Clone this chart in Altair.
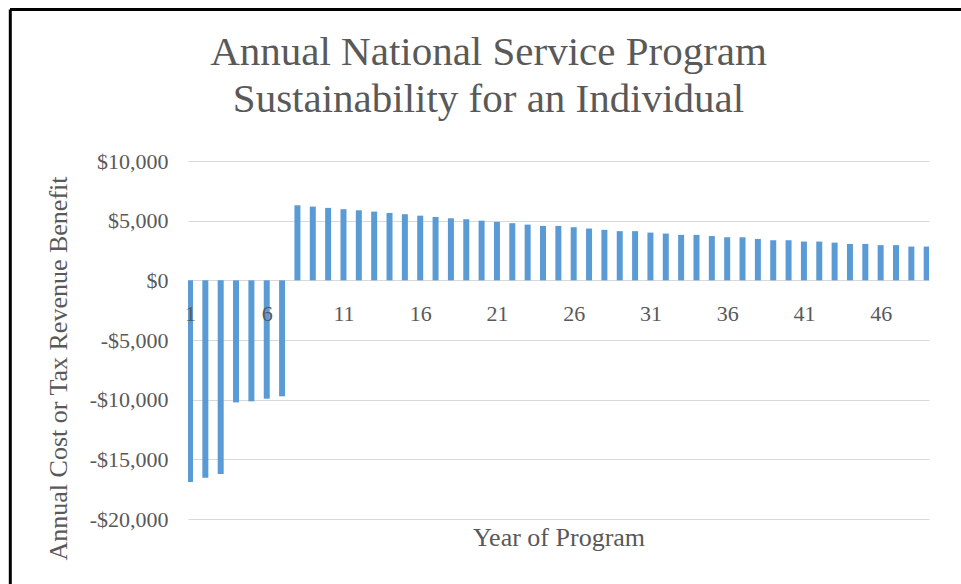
import altair as alt
import pandas as pd

# ---- data ----
years = list(range(1, 50))
values = [
    -16900, -16550, -16220, -10230, -10140, -9920, -9720,
    6290, 6180, 6070, 5960, 5870, 5760, 5650, 5540, 5420, 5310,
    5200, 5120, 5000, 4900, 4790, 4670, 4560, 4560, 4450, 4340,
    4230, 4120, 4120, 4000, 3920, 3810, 3810, 3710, 3610, 3610,
    3470, 3360, 3360, 3250, 3250, 3160, 3050, 3050, 2950, 2950,
    2830, 2830,
]
x_tick_values = [1, 6, 11, 16, 21, 26, 31, 36, 41, 46]
y_tick_values = [-20000, -15000, -10000, -5000, 0, 5000, 10000]
title_lines = ["Annual National Service Program", "Sustainability for an Individual"]
x_title = "Year of Program"
y_title = "Annual Cost or Tax Revenue Benefit"

df = pd.DataFrame({"year": years, "value": values})
frame_df = pd.DataFrame({"k": [0]})

FONT = "Liberation Serif"
GREY = "#595959"

W, H = 741, 358
PAD = {"left": 188, "top": 161, "right": 32, "bottom": 65}

bars = alt.Chart(df).mark_bar(size=6, color="#5B9BD5", clip=True).encode(
    x=alt.X(
        "year:Q",
        scale=alt.Scale(domain=[0.87, 49.15], nice=False, zero=False, padding=0),
        axis=alt.Axis(
            values=x_tick_values, orient="bottom", offset=-238.5, zindex=1,
            domain=False, ticks=False, grid=False, labelFlush=False,
            labelFontSize=22, labelFont=FONT, labelColor=GREY, labelPadding=23,
            title=x_title, titleFont=FONT, titleFontSize=26, titleColor=GREY,
            titleFontWeight="normal", titleY=265, titleBaseline="alphabetic",
        ),
    ),
    y=alt.Y(
        "value:Q",
        scale=alt.Scale(domain=[-20000, 10000], nice=False),
        axis=alt.Axis(
            values=y_tick_values, domain=False, ticks=False, grid=True,
            gridColor="#D9D9D9", gridWidth=1,
            labelFontSize=22, labelFont=FONT, labelColor=GREY, labelPadding=20,
            labelExpr="datum.value < 0 ? '-$' + format(-datum.value, ',') : '$' + format(datum.value, ',')",
            title=y_title, titleFont=FONT, titleFontSize=26, titleColor=GREY,
            titleFontWeight="normal", titleAngle=270, titleX=-122, titleY=207,
            titleBaseline="alphabetic", titleAlign="center",
        ),
    ),
)

rule_top = alt.Chart(frame_df).mark_rule(color="black", strokeWidth=3).encode(
    x=alt.value(-178), x2=alt.value(773), y=alt.value(-151.5)
)
rule_left = alt.Chart(frame_df).mark_rule(color="black", strokeWidth=3).encode(
    x=alt.value(-177.7), y=alt.value(-151.5), y2=alt.value(430)
)

chart = alt.layer(bars, rule_top, rule_left).properties(
    width=W,
    height=H,
    padding=PAD,
    autosize=alt.AutoSizeParams(type="none"),
    background="white",
    title=alt.TitleParams(
        text=title_lines, font=FONT, fontSize=41, fontWeight="normal",
        color=GREY, anchor="middle", frame="group", dx=-70, offset=-113,
        lineHeight=47,
    ),
).configure_view(stroke=None)

chart.save("out.html", embed_options={"renderer": "svg", "actions": False})
